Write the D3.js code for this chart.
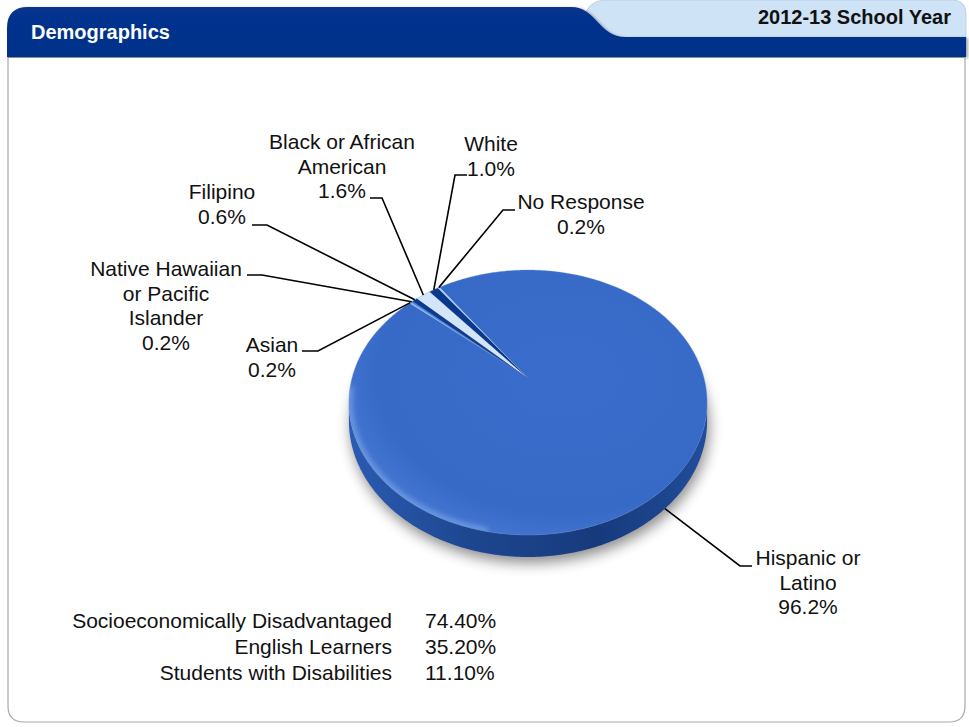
<!DOCTYPE html>
<html>
<head>
<meta charset="utf-8">
<script src="https://cdn.jsdelivr.net/npm/d3@7"></script>
<style>
  html,body{margin:0;padding:0;background:#fff;}
  svg{display:block;font-family:"Liberation Sans",Arial,Helvetica,sans-serif;}
</style>
</head>
<body>
<svg id="chart" width="969" height="727"></svg>
<script>
// ---------------- DATA ----------------
const title = "Demographics";
const schoolYear = "2012-13 School Year";
const categories = ["Asian", "Native Hawaiian or Pacific Islander", "Filipino",
  "Black or African American", "White", "No Response", "Hispanic or Latino"];
const values = [0.2, 0.2, 0.6, 1.6, 1.0, 0.2, 96.2];
const labelLines = [["Asian"], ["Native Hawaiian", "or Pacific", "Islander"], ["Filipino"],
  ["Black or African", "American"], ["White"], ["No Response"], ["Hispanic or", "Latino"]];
const sliceColors = ["#8cb9ee", "#4f85da", "#0b3a8f", "#d3e5f8", "#0a388d", "#a9cdf3", "#3a6cca"];
const statLabels = ["Socioeconomically Disadvantaged", "English Learners", "Students with Disabilities"];
const statValues = [74.40, 35.20, 11.10];

// ---------------- LAYOUT ----------------
const W = 969, H = 727;
const svg = d3.select("#chart");
const defs = svg.append("defs");

// label layout: text centre x, first baseline y, elbow point, horizontal end x
const labelLayout = [
  {x: 272, y: 352, ex: 318, ey: 351, hx: 302},
  {x: 166, y: 276, ex: 262, ey: 275, hx: 247},
  {x: 222, y: 199, ex: 267, ey: 225, hx: 252},
  {x: 342, y: 149, ex: 382, ey: 198, hx: 370},
  {x: 491, y: 151, ex: 455, ey: 175, hx: 467},
  {x: 581, y: 209, ex: 503, ey: 210, hx: 515},
  {x: 808, y: 565, ex: 740, ey: 566, hx: 752}
];
const lineH = 24.5;

// perspective projection of the pie disk
const P = {x0: 528, y0: 378, L: 176, K: 127.97, e: 0.185, depth: 17.9};
function proj(t, r = 1) {           // t: math angle on disk (ccw, 0 = right, + = far side)
  const X = r * Math.cos(t), u = r * Math.sin(t);
  const d = 1 + P.e * u;
  return [P.x0 + P.L * X / d, P.y0 - P.K * u / d];
}
function projBottom(t) {
  const u = Math.sin(t);
  const d = 1 + P.e * u;
  const p = proj(t);
  return [p[0], p[1] + P.depth / d];
}
const toT = a => Math.PI / 2 - a;   // d3 pie angle -> disk angle

// ---------------- HEADER ----------------
const hdrGrad = defs.append("linearGradient").attr("id", "hdr").attr("x1", 0).attr("y1", 0).attr("x2", 0).attr("y2", 1);
hdrGrad.append("stop").attr("offset", "0%").attr("stop-color", "#07348f");
hdrGrad.append("stop").attr("offset", "100%").attr("stop-color", "#02318a");

// light tab
svg.append("path")
  .attr("d", "M583,40 L583,22 Q586,0 606,0 H952 Q966,0 966,14 V40 Z")
  .attr("fill", "#cfe3f6").attr("stroke", "#b7cde4").attr("stroke-width", 0.8);
// dark tab + band
const shadowF = defs.append("filter").attr("id", "tabsh").attr("x", "-10%").attr("y", "-20%").attr("width", "120%").attr("height", "150%");
shadowF.append("feDropShadow").attr("dx", 2).attr("dy", 1).attr("stdDeviation", 1.5).attr("flood-color", "#000").attr("flood-opacity", 0.35);
svg.append("path")
  .attr("d", "M7,57 V28 Q7,7 28,7 H571 C597,7 598,37 626,37 H966 V57 Z")
  .attr("fill", "url(#hdr)").attr("filter", "url(#tabsh)");

// panel
svg.append("path")
  .attr("d", "M8,57 V706 Q8,722 24,722 H949 Q965,722 965,706 V57")
  .attr("fill", "#fff").attr("stroke", "#a9a9a9").attr("stroke-width", 1.2);
svg.append("line").attr("x1", 8).attr("x2", 965).attr("y1", 57.5).attr("y2", 57.5)
  .attr("stroke", "#8e8e8e").attr("stroke-width", 1);

svg.append("text").attr("x", 31).attr("y", 39).text(title)
  .attr("fill", "#fff").attr("font-weight", "bold").attr("font-size", 20);
svg.append("text").attr("x", 951).attr("y", 24).attr("text-anchor", "end").text(schoolYear)
  .attr("fill", "#111").attr("font-weight", "bold").attr("font-size", 20);

// ---------------- PIE ----------------
const start = -49 * Math.PI / 180;
const pie = d3.pie().sort(null).value(d => d.v).startAngle(start).endAngle(start + 2 * Math.PI);
const data = categories.map((c, i) => ({c, v: values[i], i}));
const arcs = pie(data);
const line = d3.line();

function rimPts(a0, a1, f) {
  const n = Math.max(2, Math.ceil(Math.abs(a1 - a0) / 0.01));
  return d3.range(n + 1).map(k => f(toT(a0 + (a1 - a0) * k / n)));
}

const pieG = svg.append("g");

// drop shadow
const blur = defs.append("filter").attr("id", "blur").attr("x", "-20%").attr("y", "-20%").attr("width", "140%").attr("height", "140%");
blur.append("feGaussianBlur").attr("stdDeviation", 7);
const fullTop = rimPts(0, 2 * Math.PI, proj);
const fullBot = rimPts(0, 2 * Math.PI, projBottom);
pieG.append("path").attr("d", line(fullBot) + "Z").attr("transform", "translate(2,6)")
  .attr("fill", "#000").attr("opacity", 0.45).attr("filter", "url(#blur)");

// side band (front part)
const sideGrad = defs.append("linearGradient").attr("id", "side").attr("x1", 0).attr("y1", 0).attr("x2", 1).attr("y2", 0);
[["0%", "#2b5bb2"], ["35%", "#1d468f"], ["70%", "#173a7c"], ["100%", "#214d9b"]].forEach(s =>
  sideGrad.append("stop").attr("offset", s[0]).attr("stop-color", s[1]));
const tL = Math.PI + Math.asin(P.e), tR = 2 * Math.PI - Math.asin(P.e);
const nS = 200;
const sideTop = d3.range(nS + 1).map(k => proj(tL + (tR - tL) * k / nS));
const sideBot = d3.range(nS + 1).map(k => projBottom(tR - (tR - tL) * k / nS));
pieG.append("path").attr("d", line(sideTop.concat(sideBot)) + "Z").attr("fill", "url(#side)");

// top face slices
const topGrad = defs.append("radialGradient").attr("id", "topg").attr("cx", "60%").attr("cy", "40%").attr("r", "65%");
topGrad.append("stop").attr("offset", "0%").attr("stop-color", "#3a6dcb");
topGrad.append("stop").attr("offset", "80%").attr("stop-color", "#3769c7");
topGrad.append("stop").attr("offset", "100%").attr("stop-color", "#4577d2");

const apex = proj(0, 0);
pieG.selectAll("path.slice").data(arcs).join("path").attr("class", "slice")
  .attr("d", d => line([apex].concat(rimPts(d.startAngle, d.endAngle, proj))) + "Z")
  .attr("fill", d => d.data.i === 6 ? "url(#topg)" : sliceColors[d.data.i])
  .attr("stroke", d => d.data.i === 6 ? "none" : sliceColors[d.data.i]).attr("stroke-width", 0.3);

// glossy highlight near the lower-left rim
defs.append("clipPath").attr("id", "topclip").append("path").attr("d", line(fullTop) + "Z");
const hl = defs.append("filter").attr("id", "hlblur");
hl.append("feGaussianBlur").attr("stdDeviation", 3);
const hlPts = d3.range(0, 101).map(k => proj(Math.PI * (1.02 + 0.42 * k / 100)));
pieG.append("path").attr("d", line(hlPts)).attr("clip-path", "url(#topclip)")
  .attr("fill", "none").attr("stroke", "#8fb7f2").attr("stroke-width", 6)
  .attr("opacity", 0.7).attr("filter", "url(#hlblur)");
// rim edge
pieG.append("path").attr("d", line(fullTop) + "Z").attr("fill", "none")
  .attr("stroke", "#6f95d4").attr("stroke-width", 0.6).attr("opacity", 0.6);

// ---------------- LABELS ----------------
const lblG = svg.append("g");
arcs.forEach(d => {
  const i = d.data.i, lay = labelLayout[i];
  const mid = (d.startAngle + d.endAngle) / 2;
  const anchor = i === 6 ? projBottom(toT(mid)) : proj(toT(mid));
  lblG.append("path")
    .attr("d", line([anchor, [lay.ex, lay.ey], [lay.hx, lay.ey]]))
    .attr("fill", "none").attr("stroke", "#000").attr("stroke-width", 1.6);
  const lines = labelLines[i].concat([d.data.v.toFixed(1) + "%"]);
  const t = lblG.append("text").attr("text-anchor", "middle").attr("font-size", 21).attr("fill", "#111");
  lines.forEach((s, k) => t.append("tspan").attr("x", lay.x).attr("y", lay.y + k * lineH).text(s));
});

// ---------------- STATS ----------------
const statG = svg.append("g").attr("font-size", 21).attr("fill", "#111");
statLabels.forEach((s, k) => {
  statG.append("text").attr("x", 392).attr("y", 628 + k * 26).attr("text-anchor", "end").text(s);
  statG.append("text").attr("x", 425).attr("y", 628 + k * 26).text(statValues[k].toFixed(2) + "%");
});
</script>
</body>
</html>
